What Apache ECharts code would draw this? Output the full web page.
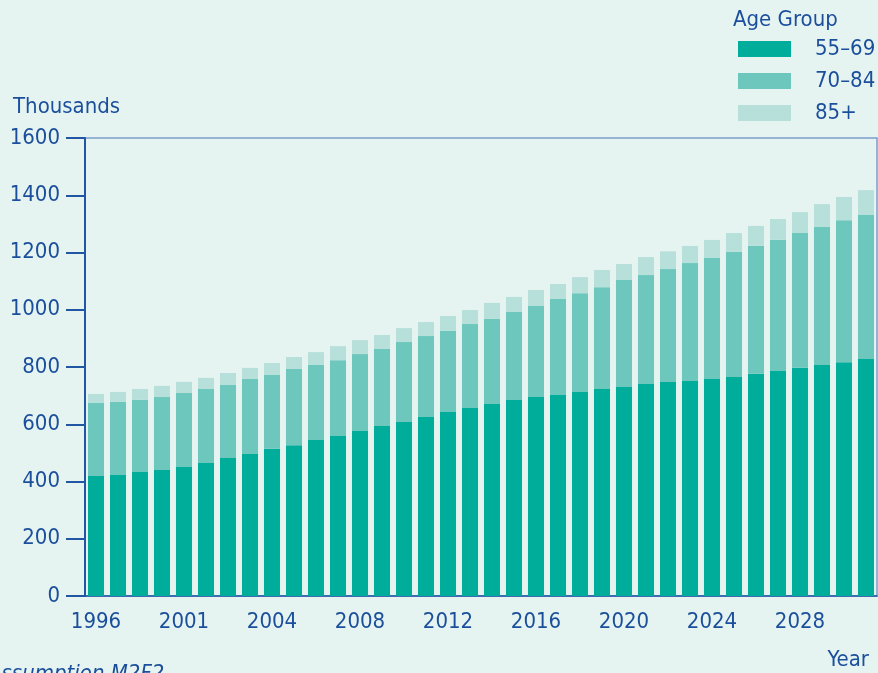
<!DOCTYPE html>
<html>
<head>
<meta charset="utf-8">
<style>
  html, body { margin: 0; padding: 0; background: #e6f4f1; }
  #chart { width: 878px; height: 673px; }
</style>
<script src="https://cdn.jsdelivr.net/npm/echarts@6.0.0/dist/echarts.min.js"></script>
</head>
<body>
<div id="chart"></div>
<script>
// one bar per year, 1996..2031
const years = [];
for (let y = 1996; y <= 2031; y++) years.push(String(y));

// labels shown under every 4th bar (as printed on the original)
const xTickLabels = ['1996', '2001', '2004', '2008', '2012', '2016', '2020', '2024', '2028'];

const groupNames = ['55\u201369', '70\u201384', '85+'];

const age55to69 = [419, 423, 433, 440, 451, 465, 482, 496, 514, 527, 545, 559, 576, 594, 608, 625, 643, 657,
  671, 685, 695, 702, 713, 723, 730, 741, 748, 751, 758, 765, 776, 786, 797, 807, 817, 828];
const age70to84 = [255, 255, 252, 255, 258, 258, 255, 262, 258, 266, 262, 265, 269, 269, 279, 283, 283, 293,
  297, 307, 318, 336, 345, 356, 374, 380, 394, 412, 423, 437, 447, 458, 471, 482, 496, 503];
const age85plus = [32, 35, 38, 39, 39, 39, 42, 39, 42, 42, 45, 49, 49, 49, 49, 49, 52, 49,
  56, 53, 56, 52, 56, 60, 56, 63, 62, 60, 63, 66, 70, 73, 73, 80, 81, 87];

const colors = ['#00ad9a', '#6dc7bd', '#b7e0db'];
const ink = '#1b4f9c';
const axisBlue = '#2156a5';
const font = '"DejaVu Sans Condensed", "DejaVu Sans", sans-serif';
const fs = 22;

const textBase = { fontSize: fs, fontWeight: 'normal', color: ink, fontFamily: font };

const chart = echarts.init(document.getElementById('chart'), null, { renderer: 'canvas' });

chart.setOption({
  backgroundColor: '#e6f4f1',
  animation: false,
  textStyle: { fontFamily: font, color: ink },
  title: [
    { text: 'Age Group', left: 728, top: 4, textStyle: textBase },
    { text: 'Thousands', left: 8, top: 91, textStyle: textBase },
    { text: 'Year', right: 4, top: 644, textStyle: textBase },
    { text: 'Assumption M2F2', left: -17, top: 658, textStyle: Object.assign({}, textBase, { fontStyle: 'italic' }) }
  ],
  legend: {
    orient: 'vertical',
    left: 733,
    top: 33,
    icon: 'rect',
    itemWidth: 53,
    itemHeight: 16,
    itemGap: 10,
    data: groupNames,
    textStyle: { fontSize: fs, color: ink, fontFamily: font, padding: [0, 0, 0, 19] }
  },
  grid: {
    left: 85,
    right: 1,
    top: 138,
    bottom: 77,
    outerBoundsMode: 'none',
    containLabel: false,
    show: true,
    borderColor: '#7c9dcb',
    borderWidth: 1.5,
    backgroundColor: 'transparent'
  },
  xAxis: {
    type: 'category',
    data: years,
    boundaryGap: true,
    axisLine: { lineStyle: { color: axisBlue, width: 1.5 } },
    axisTick: {
      alignWithLabel: true,
      length: 8,
      interval: (i) => i > 0 && i % 4 === 0,
      lineStyle: { color: axisBlue, width: 2 }
    },
    axisLabel: {
      interval: (i) => i % 4 === 0,
      formatter: (v, i) => xTickLabels[i / 4] || '',
      fontSize: fs,
      color: ink,
      margin: 15,
      fontFamily: font
    },
    splitLine: { show: false }
  },
  yAxis: {
    type: 'value',
    min: 0,
    max: 1600,
    interval: 200,
    axisLine: { show: true, lineStyle: { color: axisBlue, width: 2 } },
    axisTick: { show: true, length: 19, lineStyle: { color: axisBlue, width: 2 } },
    axisLabel: { fontSize: fs, color: ink, margin: 25, fontFamily: font, formatter: (v) => String(v) },
    splitLine: { show: false }
  },
  series: [age55to69, age70to84, age85plus].map((values, i) => ({
    name: groupNames[i],
    type: 'bar',
    stack: 'total',
    barCategoryGap: '27%',
    itemStyle: { color: colors[i] },
    data: values
  }))
});
</script>
</body>
</html>
